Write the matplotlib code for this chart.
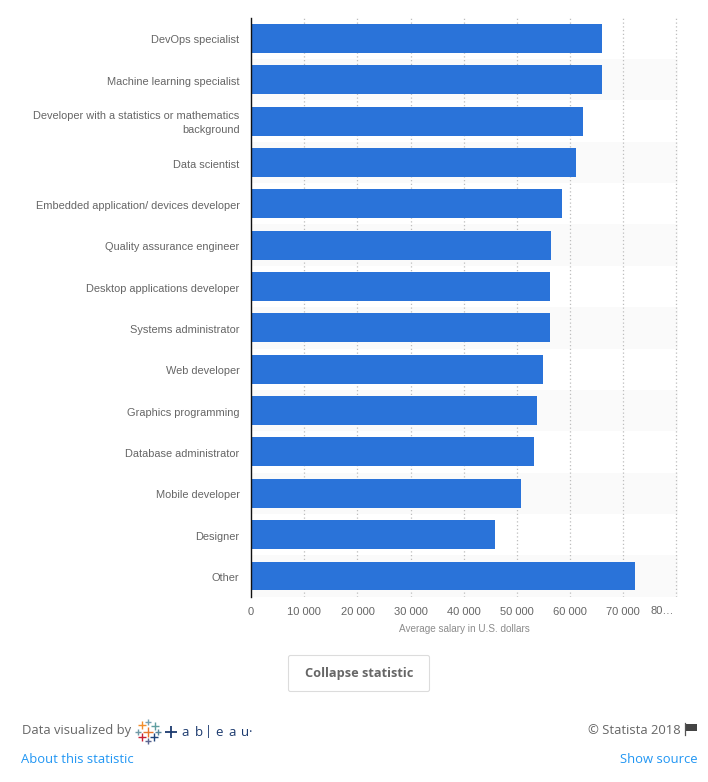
import matplotlib
matplotlib.use('Agg')
import matplotlib.pyplot as plt
from matplotlib.patches import FancyBboxPatch, Rectangle
from matplotlib.transforms import ScaledTranslation

# Average salary by developer role
roles = ['DevOps specialist', 'Machine learning specialist',
         'Developer with a statistics or mathematics\nbackground', 'Data scientist',
         'Embedded application/ devices developer', 'Quality assurance engineer',
         'Desktop applications developer', 'Systems administrator', 'Web developer',
         'Graphics programming', 'Database administrator', 'Mobile developer',
         'Designer', 'Other']
salaries = [66000, 66000, 62450, 61180, 58490, 56440, 56260, 56260, 54950,
            53810, 53260, 50820, 45870, 72150]
ticks = [0, 10000, 20000, 30000, 40000, 50000, 60000, 70000, 80000]
tick_labels = ['0', '10 000', '20 000', '30 000', '40 000', '50 000', '60 000', '70 000', '']

W, H = 708, 782
fig = plt.figure(figsize=(W / 100, H / 100), dpi=100)
plt.rcParams['font.family'] = ['Liberation Sans', 'DejaVu Sans']

# plot area in pixels
left, right, top, bottom = 251.1, 677.5, 17.7, 596.7
ax = fig.add_axes([left / W, 1 - bottom / H, (right - left) / W, (bottom - top) / H])
ax.set_xlim(0, (right - left) / 53.17 * 10000)
ax.set_ylim(len(roles) - 0.5, -0.5)

# alternating row bands
for i in range(1, len(roles), 2):
    ax.axhspan(i - 0.5, i + 0.5, color='#fafafa', lw=0, zorder=0)

for t in ticks[1:]:
    ax.axvline(t, color='#bdbdbd', lw=0.9, ls=(0, (1, 2)), zorder=1)

ax.barh(range(len(roles)), salaries, height=0.70, color='#2a73d9', zorder=2)

ax.set_yticks(range(len(roles)))
ax.set_yticklabels(roles, fontsize=7.9, color='#666666', linespacing=1.45, ma='right')
ax.set_xticks(ticks)
ax.set_xticklabels(tick_labels, fontsize=8.0, color='#666666')
ax.tick_params(axis='y', length=0, pad=8.3)
ax.tick_params(axis='x', length=0, pad=7.5)
for lab in ax.get_yticklabels():
    # the two-line label sits higher than the rest
    dy = 0.8 if '\n' in lab.get_text() else -0.8
    lab.set_transform(lab.get_transform() + ScaledTranslation(0, dy / 72, fig.dpi_scale_trans))
for s in ['top', 'right', 'bottom']:
    ax.spines[s].set_visible(False)
ax.spines['left'].set_color('#111111')
ax.spines['left'].set_linewidth(1.0)

# overlay in pixel coordinates for the page furniture
ov = fig.add_axes([0, 0, 1, 1], zorder=5)
ov.set_xlim(0, W)
ov.set_ylim(H, 0)
ov.axis('off')

ov.text(662.5, 611.5, '80…', fontsize=8.0, color='#666666', ha='center', va='center')
ov.text(464.5, 628.5, 'Average salary in U.S. dollars', fontsize=7.2, color='#8c8c8c',
        ha='center', va='center')

ov.add_patch(FancyBboxPatch((288.5, 655.5), 141, 36, boxstyle='round,pad=0,rounding_size=2',
                            fc='white', ec='#dcdcdc', lw=0.8))
ov.text(359, 673.5, 'Collapse statistic', fontsize=9.2, fontweight='bold', color='#666666',
        family='Open Sans', ha='center', va='center')

ov.text(22, 730.5, 'Data visualized by', fontsize=9.4, color='#666666', family='Open Sans',
        va='center')
ov.text(21, 759.5, 'About this statistic', fontsize=9.4, color='#2196f3', family='Open Sans',
        va='center')
ov.text(681, 730.5, '© Statista 2018', fontsize=9.4, color='#666666', family='Open Sans',
        ha='right', va='center')
ov.text(697, 759.5, 'Show source', fontsize=9.4, color='#2196f3', family='Open Sans',
        ha='right', va='center')

# flag icon
ov.plot([685, 685], [723, 735], color='#555555', lw=0.9)
ov.add_patch(Rectangle((686, 724), 10.5, 7, fc='#444444', ec='none'))

# tableau logo
logo_marks = [(141.7, 725, '#f28e2b', 6), (148.3, 721.7, '#76a1b2', 4), (155, 726, '#5f9ea0', 6),
              (148.3, 731.7, '#e8762c', 7), (138.3, 731.7, '#7099a6', 4), (158.3, 731.7, '#59879b', 4),
              (141.7, 737.3, '#c72035', 6), (154.3, 737.3, '#1f447a', 6), (148.3, 741, '#5b6591', 4)]
for mx, my, mc, ms in logo_marks:
    ov.plot(mx, my, marker='+', color=mc, ms=ms, mew=1.0, ls='none')
ov.plot(171, 732, marker='+', color='#1c3a6e', ms=9, mew=1.3, ls='none')
for lx, ch in zip([185, 199, 209, 219.3, 232.3, 245, 250.7], ['a', 'b', '|', 'e', 'a', 'u', '·']):
    ov.text(lx, 732, ch, fontsize=9.5, color='#1c3a6e', family='Open Sans',
            ha='center', va='center')

fig.savefig('out.png', dpi=100)
